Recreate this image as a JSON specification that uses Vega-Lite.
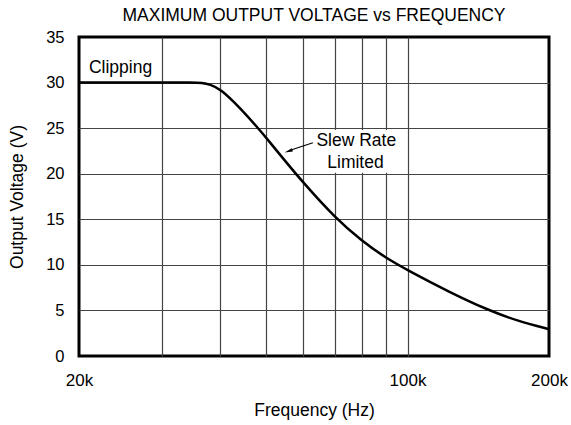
{
  "$schema": "https://vega.github.io/schema/vega-lite/v6.json",
  "width": 470,
  "height": 319,
  "autosize": {"type": "none"},
  "padding": {"left": 79, "top": 37, "right": 22, "bottom": 69},
  "background": "white",
  "title": {
    "text": "MAXIMUM OUTPUT VOLTAGE vs FREQUENCY",
    "font": "Liberation Sans",
    "fontSize": 17.5,
    "fontWeight": "normal",
    "color": "black",
    "offset": 5
  },
  "config": {
    "view": {"stroke": "black", "strokeWidth": 3},
    "font": "Liberation Sans"
  },
  "datasets": {
    "curve": [
      {"f": 20000, "v": 30},
      {"f": 30000, "v": 30},
      {"f": 35000, "v": 30},
      {"f": 36500, "v": 29.97},
      {"f": 38000, "v": 29.8},
      {"f": 40000, "v": 29.3},
      {"f": 44000, "v": 27.23},
      {"f": 48600, "v": 24.72},
      {"f": 50000, "v": 23.96},
      {"f": 54300, "v": 21.7},
      {"f": 60000, "v": 19.01},
      {"f": 70000, "v": 15.2},
      {"f": 80000, "v": 12.59},
      {"f": 90000, "v": 10.75},
      {"f": 100000, "v": 9.42},
      {"f": 123000, "v": 6.99},
      {"f": 148000, "v": 5.06},
      {"f": 171000, "v": 3.86},
      {"f": 200000, "v": 2.94}
    ],
    "box": [{"f": 61500, "f2": 98400, "v": 20.1, "v2": 24.8}],
    "arrow": [{"f": 62900, "v": 23.4, "f2": 56500, "v2": 22.6}],
    "head": [{"f": 56000, "v": 22.5}],
    "leftlabels": [
      {"f": 21000, "v": 31.1, "label": "Clipping"}
    ],
    "centerlabels": [
      {"f": 77800, "v": 23.05, "label": "Slew Rate"},
      {"f": 77500, "v": 20.6, "label": "Limited"}
    ]
  },
  "encoding": {
    "x": {
      "field": "f",
      "type": "quantitative",
      "scale": {"type": "log", "domain": [20000, 200000], "nice": false},
      "axis": {
        "title": "Frequency (Hz)",
        "titleFont": "Liberation Sans",
        "titleFontSize": 17.5,
        "titleFontWeight": "normal",
        "titleColor": "black",
        "titlePadding": 13,
        "values": [20000, 30000, 40000, 50000, 60000, 70000, 80000, 90000, 100000, 200000],
        "labelExpr": "datum.value == 20000 ? '20k' : datum.value == 100000 ? '100k' : datum.value == 200000 ? '200k' : ''",
        "labelFont": "Liberation Sans",
        "labelFontSize": 17,
        "labelColor": "black",
        "labelPadding": 16,
        "labelFlush": false,
        "labelOverlap": false,
        "labelBound": false,
        "tickSize": 0,
        "ticks": false,
        "domain": false,
        "grid": true,
        "gridColor": "#444",
        "gridWidth": 1.2,
        "gridOpacity": {"condition": {"test": "datum.value == 20000 || datum.value == 200000", "value": 0}, "value": 1}
      }
    },
    "y": {
      "field": "v",
      "type": "quantitative",
      "scale": {"domain": [0, 35], "nice": false, "zero": true},
      "axis": {
        "title": "Output Voltage (V)",
        "titleFont": "Liberation Sans",
        "titleFontSize": 17.5,
        "titleFontWeight": "normal",
        "titleColor": "black",
        "titlePadding": 19,
        "values": [0, 5, 10, 15, 20, 25, 30, 35],
        "labelFont": "Liberation Sans",
        "labelFontSize": 16.5,
        "labelColor": "black",
        "labelPadding": 15,
        "labelFlush": false,
        "labelOverlap": false,
        "labelBound": false,
        "tickSize": 0,
        "ticks": false,
        "domain": false,
        "grid": true,
        "gridColor": "#444",
        "gridWidth": 1.2,
        "gridOpacity": {"condition": {"test": "datum.value == 0 || datum.value == 35", "value": 0}, "value": 1}
      }
    }
  },
  "layer": [
    {
      "data": {"name": "box"},
      "mark": {"type": "rect", "fill": "white", "stroke": null},
      "encoding": {"x2": {"field": "f2"}, "y2": {"field": "v2"}}
    },
    {
      "data": {"name": "curve"},
      "mark": {"type": "line", "color": "black", "strokeWidth": 2.5, "interpolate": "basis"},
      "encoding": {}
    },
    {
      "data": {"name": "arrow"},
      "mark": {"type": "rule", "color": "black", "strokeWidth": 1.2},
      "encoding": {"x2": {"field": "f2"}, "y2": {"field": "v2"}}
    },
    {
      "data": {"name": "head"},
      "mark": {"type": "point", "shape": "M0,-1L0.38,0.7L-0.38,0.7Z", "filled": true, "color": "black", "size": 90, "angle": 252, "opacity": 1},
      "encoding": {}
    },
    {
      "data": {"name": "leftlabels"},
      "mark": {"type": "text", "font": "Liberation Sans", "fontSize": 17.5, "color": "black", "baseline": "alphabetic", "align": "left"},
      "encoding": {"text": {"field": "label"}}
    },
    {
      "data": {"name": "centerlabels"},
      "mark": {"type": "text", "font": "Liberation Sans", "fontSize": 17.5, "color": "black", "baseline": "alphabetic", "align": "center"},
      "encoding": {"text": {"field": "label"}}
    }
  ]
}
